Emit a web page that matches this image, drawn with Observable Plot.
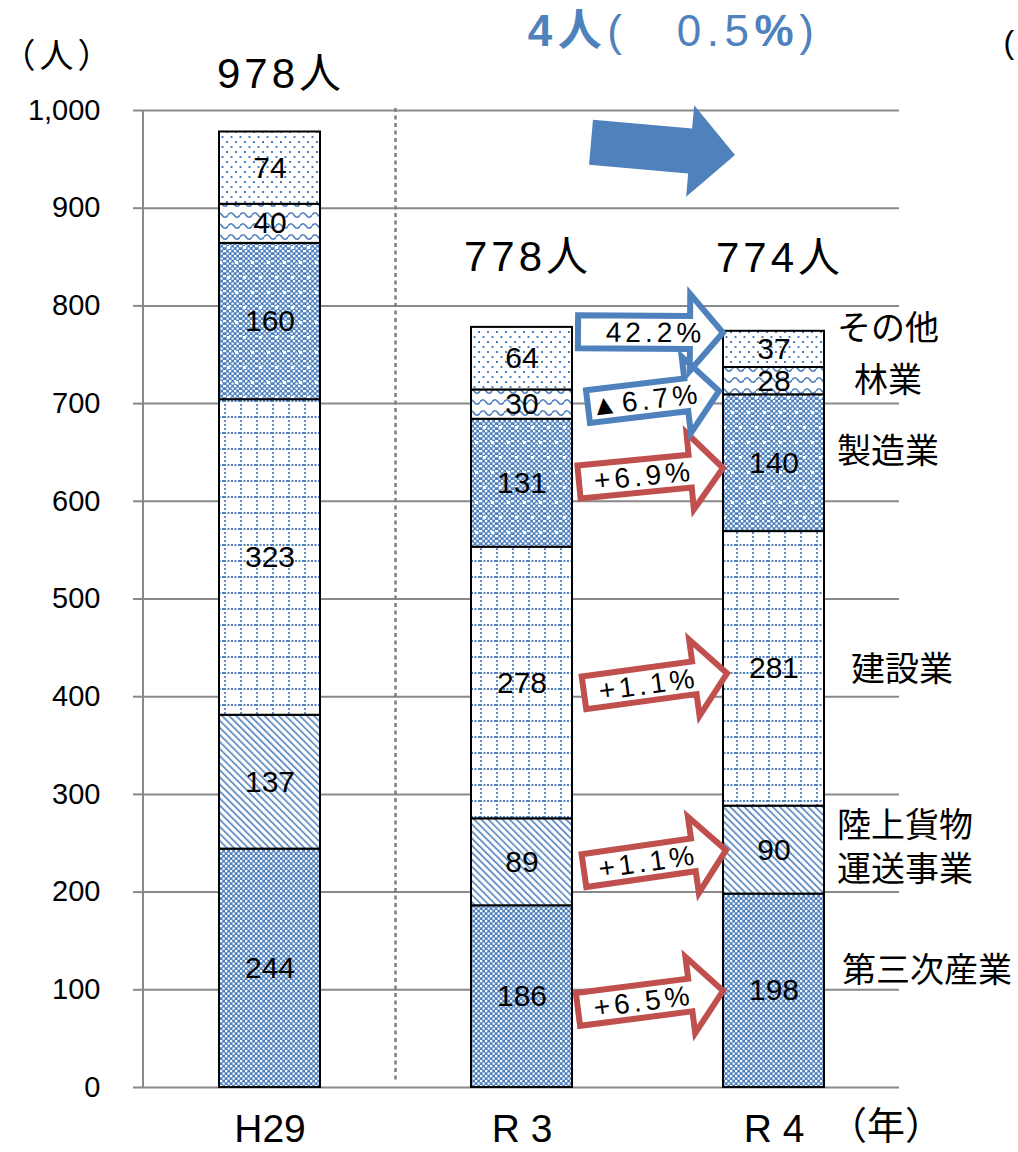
<!DOCTYPE html>
<html><head><meta charset="utf-8">
<script src="https://cdn.jsdelivr.net/npm/d3@7"></script>
<script src="https://cdn.jsdelivr.net/npm/@observablehq/plot@0.6"></script>
<style>
body { margin:0; background:#fff; }
</style></head><body><div id="chart"></div>
<script>
// ---- data ----
const categories = ["H29", "R 3", "R 4"];
const industries = ["第三次産業", "陸上貨物運送事業", "建設業", "製造業", "林業", "その他"];
const valuesH29 = [244, 137, 323, 160, 40, 74];
const valuesR3 = [186, 89, 278, 131, 30, 64];
const valuesR4 = [198, 90, 281, 140, 28, 37];
const totals = [978, 778, 774];
const totalLabels = ["978人", "778人", "774人"];
const legendLabels = ["第三次産業", "陸上貨物\n運送事業", "建設業", "製造業", "林業", "その他"];
const changeLabels = ["+6.5%", "+1.1%", "+1.1%", "+6.9%", "▲6.7%", "42.2%"];
const headlineParts = ["4人", "(", "　", "0.5", "%", ")"];
const headlineBold = [true, false, false, false, true, false];
const yTicks = [0, 100, 200, 300, 400, 500, 600, 700, 800, 900, 1000];
const unitY = "（人）";
const unitX = "（年）";

// ---- annotation placement (data units / pixel offsets) ----
const totalDx = [11, 6, 6];
const totalDy = [-57, -70, -73];
const legendY = [122, 248, 430, 653, 726, 779];
const legendDx = [68, 63, 77, 63, 80, 63];
const arrowYLeft = [79, 221, 403, 619, 696, 773];
const arrowYTip = [99, 243, 424, 634, 713, 772];
const arrowDxLeft = [3, 9, 9, 4, 13, 3];
const arrowDxTip = [4, 7, 8, 4, 0, 4];
const arrowTextT = [0.45, 0.45, 0.45, 0.45, 0.44, 0.53];
const changeColorKeys = ["up", "up", "up", "up", "forest", "other"];

// ---- style ----
const FONT = '"Liberation Sans", "Noto Sans CJK JP", sans-serif';
const BLUE = "#4f81bd", RED = "#c0504d", GRID = "#898989";
const arrowColor = {up: RED, forest: BLUE, other: BLUE};

const valuesByYear = [valuesH29, valuesR3, valuesR4];
const rows = categories.flatMap((c, i) => industries.map((ind, j) => ({year: c, industry: ind, value: valuesByYear[i][j], k: j})));
const totalRows = categories.map((c, i) => ({year: c, total: totals[i], label: totalLabels[i]}));

function bandInfo(scales) {
  const x = scales.x;
  const bw = typeof x.bandwidth === "function" ? x.bandwidth() : scales.scales.x.bandwidth;
  return {x, bw};
}

function patternDefs() {
  const defs = d3.create("svg:defs");
  const pat = (id, w, h) => defs.append("pattern").attr("id", id).attr("patternUnits", "userSpaceOnUse").attr("width", w).attr("height", h);
  // 0: checker
  const p0 = pat("pat-0", 5, 5);
  p0.append("rect").attr("width", 5).attr("height", 5).attr("fill", BLUE);
  p0.append("rect").attr("x", 0).attr("y", 0).attr("width", 2.2).attr("height", 2.2).attr("fill", "#fff");
  p0.append("rect").attr("x", 2.5).attr("y", 2.5).attr("width", 2.2).attr("height", 2.2).attr("fill", "#fff");
  // 1: diagonal lines
  const p1 = pat("pat-1", 5, 10).attr("patternTransform", "rotate(-45)");
  p1.append("rect").attr("width", 5).attr("height", 10).attr("fill", "#fff");
  p1.append("rect").attr("width", 1.6).attr("height", 10).attr("fill", BLUE);
  // 2: dotted grid
  const p2 = pat("pat-2", 16, 16);
  p2.append("rect").attr("width", 16).attr("height", 16).attr("fill", "#fff");
  p2.append("line").attr("x1", 0).attr("x2", 16).attr("y1", 1).attr("y2", 1).attr("stroke", BLUE).attr("stroke-width", 1.8).attr("stroke-dasharray", "2 1.5");
  p2.append("line").attr("x1", 1).attr("x2", 1).attr("y1", 0).attr("y2", 16).attr("stroke", BLUE).attr("stroke-width", 1.8).attr("stroke-dasharray", "2 2");
  // 3: checker with white dots
  const p3 = pat("pat-3", 16, 30);
  p3.append("rect").attr("width", 16).attr("height", 30).attr("fill", "url(#pat-0)");
  p3.append("rect").attr("x", 3).attr("y", 6).attr("width", 3).attr("height", 3).attr("fill", "#fff");
  p3.append("rect").attr("x", 11).attr("y", 21).attr("width", 3).attr("height", 3).attr("fill", "#fff");
  // 4: waves
  const p4 = pat("pat-4", 12, 11);
  p4.append("rect").attr("width", 12).attr("height", 11).attr("fill", "#fff");
  p4.append("path").attr("d", "M0,6 Q3,1.5 6,6 T12,6").attr("fill", "none").attr("stroke", BLUE).attr("stroke-width", 1.7);
  // 5: sparse dots
  const p5 = pat("pat-5", 9, 10);
  p5.append("rect").attr("width", 9).attr("height", 10).attr("fill", "#fff");
  p5.append("rect").attr("x", 1).attr("y", 1).attr("width", 2).attr("height", 2).attr("fill", BLUE);
  p5.append("rect").attr("x", 5.5).attr("y", 6).attr("width", 2).attr("height", 2).attr("fill", BLUE);
  return defs.node();
}

function arrowPath(L, bh, hh, hl) {
  return `M0,${-bh}L${L - hl},${-bh}L${L - hl},${-hh}L${L},0L${L - hl},${hh}L${L - hl},${bh}L0,${bh}Z`;
}

function framing(index, scales, values, dims) {
  const {x, bw} = bandInfo(scales);
  const y = scales.y;
  const g = d3.create("svg:g");
  g.append("line").attr("x1", dims.marginLeft).attr("x2", dims.marginLeft)
    .attr("y1", y(1000)).attr("y2", y(0)).attr("stroke", GRID).attr("stroke-width", 2);
  const sx = x(categories[0]) + bw + (x(categories[1]) - x(categories[0]) - bw) / 2;
  g.append("line").attr("x1", sx).attr("x2", sx).attr("y1", y(1000) - 2).attr("y2", y(0) - 5)
    .attr("stroke", "#7f7f7f").attr("stroke-width", 2.5).attr("stroke-dasharray", "4 3.5");
  return g.node();
}

function arrows(index, scales) {
  const {x, bw} = bandInfo(scales);
  const y = scales.y;
  const xL = x(categories[1]) + bw;
  const xR = x(categories[2]);
  const g = d3.create("svg:g");
  changeLabels.forEach((label, i) => {
    const ax = xL + arrowDxLeft[i], ay = y(arrowYLeft[i]);
    const bx = xR + arrowDxTip[i], by = y(arrowYTip[i]);
    const Lo = Math.hypot(bx - ax, by - ay);
    const ang = Math.atan2(by - ay, bx - ax) * 180 / Math.PI;
    const gi = g.append("g").attr("transform", `translate(${ax},${ay}) rotate(${ang})`);
    gi.append("path").attr("d", arrowPath(Lo - 7, 16.5, 38.5, 33)).attr("transform", "translate(3,0)")
      .attr("fill", "#fff").attr("stroke", arrowColor[changeColorKeys[i]]).attr("stroke-width", 6)
      .attr("stroke-linejoin", "miter").attr("stroke-miterlimit", 10);
    gi.append("text").attr("x", Lo * arrowTextT[i]).attr("y", 0).attr("dy", "0.35em")
      .attr("text-anchor", "middle").attr("font-size", 28).attr("font-family", FONT)
      .style("letter-spacing", "4px").attr("fill", "#000").text(label);
  });
  return g.node();
}

function headline(index, scales) {
  const {x, bw} = bandInfo(scales);
  const y = scales.y;
  const xL = x(categories[1]) + bw;
  const xR = x(categories[2]);
  const g = d3.create("svg:g");
  // solid change arrow
  const ax = xL + 19, ay = y(967), bx = xR + 12, by = y(954);
  const L = Math.hypot(bx - ax, by - ay);
  const ang = Math.atan2(by - ay, bx - ax) * 180 / Math.PI;
  g.append("path").attr("transform", `translate(${ax},${ay}) rotate(${ang})`)
    .attr("d", arrowPath(L, 22.5, 46, 45)).attr("fill", BLUE);
  const t = g.append("text").attr("x", (xL + xR) / 2 + 26).attr("y", y(1065))
    .attr("text-anchor", "middle").attr("font-size", 44).attr("font-family", FONT)
    .attr("fill", BLUE).style("letter-spacing", "5.5px");
  headlineParts.forEach((p, i) => t.append("tspan").attr("font-weight", headlineBold[i] ? "bold" : "normal").text(p));
  return g.node();
}

const chart = Plot.plot({
  width: 1018,
  height: 1152,
  marginLeft: 143,
  marginRight: 119,
  marginTop: 110,
  marginBottom: 65,
  style: {fontFamily: FONT, fontSize: "30px", background: "#fff", color: "#000", overflow: "visible"},
  x: {type: "band", domain: categories, paddingInner: 0.6, paddingOuter: 0.3, label: null},
  y: {domain: [0, 1000], label: null},
  color: {type: "identity"},
  marks: [
    () => patternDefs(),
    Plot.ruleY(yTicks, {stroke: GRID, strokeWidth: 2}),
    Plot.axisY({ticks: yTicks, tickFormat: d3.format(","), tickSize: 10, tickPadding: 33, fontSize: 29, stroke: GRID, strokeWidth: 2, label: null}),
    Plot.axisX({tickSize: 0, tickPadding: 27, fontSize: 39, label: null}),
    framing,
    Plot.barY(rows, {x: "year", y: "value", z: "industry", fill: d => `url(#pat-${d.k})`, stroke: "#000", strokeWidth: 2}),
    Plot.text(rows, Plot.stackY({x: "year", y: "value", z: "industry", text: d => String(d.value), fontSize: 30, fill: "#000"})),
    ...totalRows.map((r, i) => Plot.text([r], {x: "year", y: "total", text: "label", dx: totalDx[i], dy: totalDy[i], fontSize: 42, fill: "#000"})),
    ...legendLabels.map((t, i) => Plot.text([{year: categories[2], y: legendY[i], t}], {x: "year", y: "y", text: "t", textAnchor: "start", dx: legendDx[i], fontSize: 34, lineHeight: 1.27, fill: "#000"})),
    arrows,
    headline,
    Plot.text([unitY], {frameAnchor: "top-left", text: d => d, textAnchor: "start", dx: -142, dy: -67, fontSize: 34, fill: "#000"}),
    Plot.text([{year: categories[2], t: unitX}], {x: "year", y: () => 0, text: "t", textAnchor: "start", dx: 55, dy: 39, fontSize: 38, fill: "#000"}),
    Plot.text(["("], {frameAnchor: "top-right", text: d => d, textAnchor: "start", dx: 104, dy: -80, fontSize: 32, fill: "#000"})
  ]
});

// letter spacing tweaks for labels
chart.querySelectorAll("text").forEach(t => {
  const s = t.textContent;
  if (totalLabels.includes(s)) t.style.letterSpacing = "4px";
  if (s === unitY) t.style.letterSpacing = "4px";
});
document.getElementById("chart").appendChild(chart);
</script>
</body></html>
